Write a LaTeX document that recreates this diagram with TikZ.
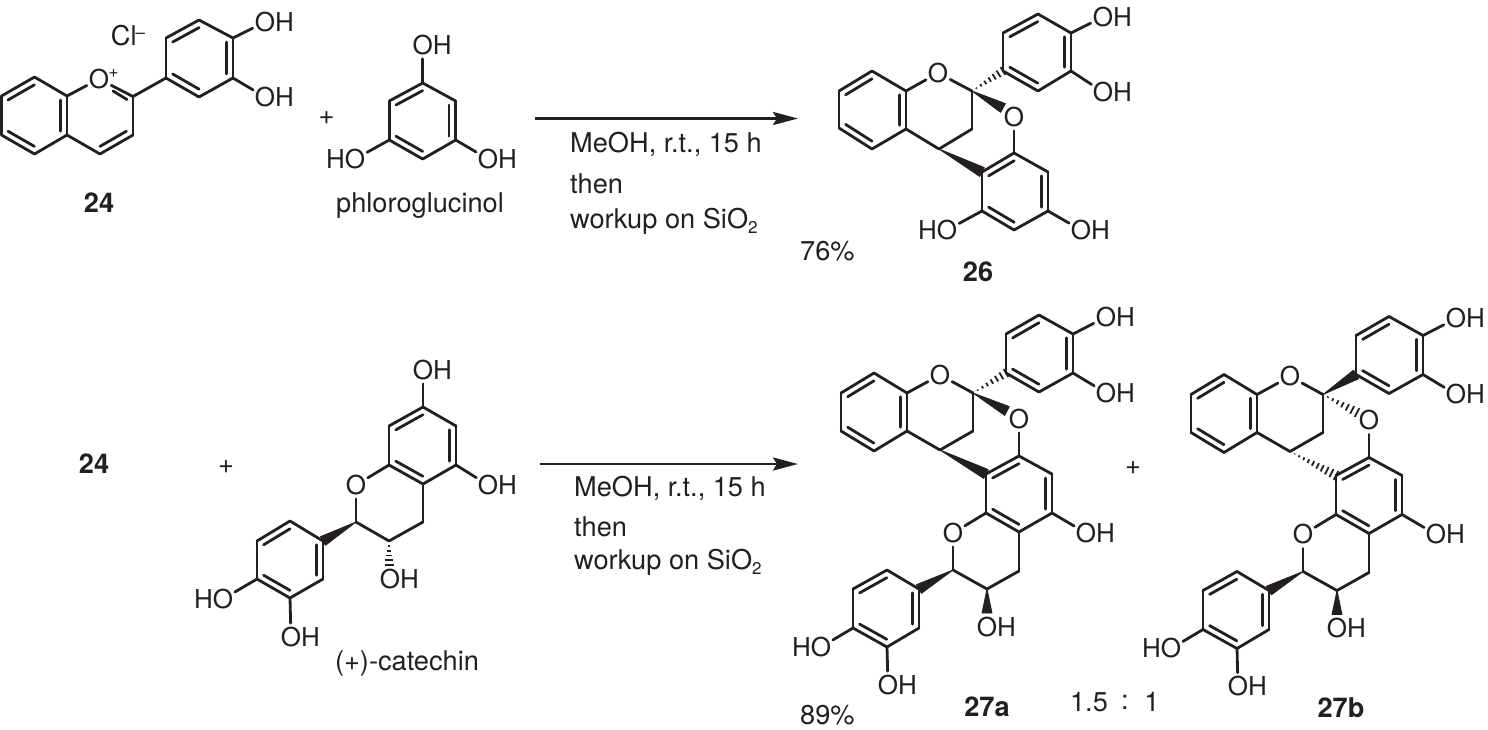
\documentclass[tikz,border=0pt]{standalone}
\usepackage{fontspec}
\setmainfont{TeX Gyre Heros}
\usetikzlibrary{calc,arrows.meta}
\newcommand\chemf{\fontsize{26}{30}\selectfont}
\newcommand\labf{\fontsize{27.2}{32}\selectfont}
\newcommand\smallf{\fontsize{17}{20}\selectfont}
\definecolor{ink}{HTML}{231F20}
\tikzset{
  bond/.style={line width=2.8pt,line cap=round,draw=ink},
  hashline/.style={line width=1.8pt,draw=ink},
  wedgefill/.style={fill=ink,draw=ink,line width=.8pt,line join=round},
  het/.style={circle,inner sep=0pt,minimum size=25pt,font=\chemf,text height=18.4pt,text depth=0pt,text=ink},
  hyd/.style={inner sep=0pt,font=\chemf,text height=18.4pt,text depth=0pt,text=ink},
  lab/.style={inner sep=0pt,font=\labf,text=ink},
  boldlab/.style={inner sep=0pt,font=\labf\bfseries,text=ink},
  plain/.style={inner sep=0pt,font=\labf,text=ink,anchor=base west},
  rxn/.style={line width=2.8pt,draw=ink,-{Stealth[length=25pt,width=13pt,inset=4pt]}}
}
% helpers
\newcommand\atoms[1]{\foreach \nn/\xx/\yy in {#1}{\coordinate (\nn) at (\xx,\yy);}}
\newcommand\bnd[1]{\foreach \pa/\pb in {#1}{\draw[bond] (\pa) -- (\pb);}}
\newcommand\dbl[1]{\foreach \pa/\pb/\pc in {#1}{\draw[bond] ($(\pa)!.2!(\pc)$) -- ($(\pb)!.2!(\pc)$);}}
\newcommand\wdg[3]{\path[wedgefill] (#1) -- ($(#2)!#3!90:(#1)$) -- ($(#2)!#3!-90:(#1)$) -- cycle;}
\newcommand\hsh[4]{\foreach \ii in {1,...,#4}{\pgfmathsetmacro\tt{\ii/#4}\draw[hashline] ($(#1)!\tt!(#2)!\tt*#3!90:(#1)$) -- ($(#1)!\tt!(#2)!\tt*#3!-90:(#1)$);}}
\newcommand\OH[3]{\node[het] (#1) at (#2,#3) {O}; \path (#1.center) ++(19.5,0) node[hyd] (#1h) {H};}
\newcommand\HO[3]{\node[het] (#1) at (#2,#3) {O}; \path (#1.center) ++(-19.5,0) node[hyd] (#1h) {H};}
\newcommand\OO[3]{\node[het] (#1) at (#2,#3) {O};}
% 27 skeleton
\newcommand\twentyseven[1]{%
  \atoms{#1a1/874/373,#1a2/841/393,#1a3/841/431,#1a4/874/451,#1a5/907/431,#1a6/907/393,#1ac/874/412,
         #1c2/973/393,#1c3/973/431,#1c4/940/450,
         #1p1/1006/373,#1p2/1039/392,#1p3/1073/373,#1p4/1073/334,#1p5/1039/315,#1p6/1006/334,#1pc/1039/353.5,
         #1r1/1019/456,#1r2/1052/474,#1r3/1052/513,#1r4/1019/532,#1r5/986/513,#1r6/986/474,#1rc/1019/494,
         #1d2/953/570,#1d3/987/589,#1d4/1019/571,
         #1b1/919/589,#1b2/919/628,#1b3/887/647,#1b4/853/628,#1b5/853/589,#1b6/887/570,#1bc/886/608.5,
         #1w1/987/613}%
  \OO{#1o1}{940}{375}\OH{#1oa}{1106}{317}\OH{#1ob}{1106}{393}
  \OO{#1o2}{1019}{419}\OH{#1oc}{1086}{533}\OO{#1o3}{953}{533}
  \OH{#1od}{987}{627}\HO{#1oe}{821}{647}\OH{#1of}{888}{685}
  \bnd{#1a1/#1a2,#1a2/#1a3,#1a3/#1a4,#1a4/#1a5,#1a5/#1a6,#1a6/#1a1,#1a6/#1o1,#1o1/#1c2,#1c2/#1c3,#1c3/#1c4,#1c4/#1a5,
       #1p1/#1p2,#1p2/#1p3,#1p3/#1p4,#1p4/#1p5,#1p5/#1p6,#1p6/#1p1,#1p4/#1oa,#1p3/#1ob,
       #1o2/#1r1,#1r1/#1r2,#1r2/#1r3,#1r3/#1r4,#1r4/#1r5,#1r5/#1r6,#1r6/#1r1,#1r3/#1oc,#1r5/#1o3,#1o3/#1d2,#1d2/#1d3,#1d3/#1d4,#1d4/#1r4,
       #1b1/#1b2,#1b2/#1b3,#1b3/#1b4,#1b4/#1b5,#1b5/#1b6,#1b6/#1b1,#1b4/#1oe,#1b3/#1of}
  \dbl{#1a1/#1a2/#1ac,#1a3/#1a4/#1ac,#1a5/#1a6/#1ac,
       #1p6/#1p5/#1pc,#1p3/#1p4/#1pc,#1p1/#1p2/#1pc,
       #1r1/#1r6/#1rc,#1r2/#1r3/#1rc,#1r4/#1r5/#1rc,
       #1b5/#1b6/#1bc,#1b1/#1b2/#1bc,#1b3/#1b4/#1bc}
  \wdg{#1d2}{#1b1}{5pt}
  \wdg{#1d3}{#1w1}{5pt}
}
\begin{document}
\begin{tikzpicture}[x=1pt,y=-1pt]
\useasboundingbox (0,0) rectangle (1488,729);
% ---------- 24
\atoms{a1/34.5/77,a2/1.5/96,a3/1.5/135,a4/34.5/154,a5/67/135,a6/67/96,ac/34/116,
       c2/133/96.5,c3/133/135,c4/100/154,cc/100/116,
       p1/166/78,p2/199/97,p3/233/78,p4/233/38,p5/199/20,p6/166/38,pc/199.5/58,
       dbA/113/91,dbB/127/99.5}
\OO{o1}{99}{79}
\node[inner sep=0pt,font=\smallf,text=ink] (oplus) at (113.5,73) {+};
\OH{oa}{265}{22}\OH{ob}{265}{97}
\node[lab] (cl) at (128,36) {Cl\raisebox{7pt}{\smallf\kern-1pt –}};
\bnd{a1/a2,a2/a3,a3/a4,a4/a5,a5/a6,a6/a1,a6/o1,o1/c2,c2/c3,c3/c4,c4/a5,c2/p1,
     p1/p2,p2/p3,p3/p4,p4/p5,p5/p6,p6/p1,p4/oa,p3/ob,dbA/dbB}
\dbl{a1/a2/ac,a3/a4/ac,a5/a6/ac,c3/c4/cc,p6/p5/pc,p3/p4/pc,p1/p2/pc}
\node[boldlab] (n24a) at (99,203) {24};
% ---------- phloroglucinol
\node[lab] (plus1) at (326.5,118) {+};
\atoms{g1/422.7/83,g2/455.7/101,g3/455.7/140,g4/422.7/159,g5/389.3/140,g6/389.3/101,gc/422.5/121}
\OH{ga}{422.7}{45}\HO{gb}{355}{159}\OH{gd}{488}{159}
\bnd{g1/g2,g2/g3,g3/g4,g4/g5,g5/g6,g6/g1,g1/ga,g5/gb,g3/gd}
\dbl{g6/g1/gc,g2/g3/gc,g4/g5/gc}
\node[lab] (phl) at (420,206) {phloroglucinol};
% ---------- arrow 1
\coordinate (ar1s) at (535,118.5);\coordinate (ar1e) at (798,118.5);
\draw[rxn] (ar1s) -- (ar1e);
\node[plain] (t1) at (570,152) {MeOH, r.t., 15 h};
\node[plain] (t2) at (570,193) {then};
\node[plain] (t3) at (570,228) {workup on SiO\raisebox{-5pt}{\smallf 2}};
\node[plain] (y1) at (800,260) {76\%};
% ---------- 26
\atoms{b1/872/71,b2/839/91,b3/839/128,b4/872/149,b5/906/129,b6/906/91,bc/872/110,
       e2/972/91,e3/972/129,e4/939/149,
       q1/1003/71,q2/1038/91,q3/1071/71,q4/1071/33,q5/1038/14,q6/1003/33,qc/1037/52,
       r1/1014/153,r2/1048/172,r3/1048/211,r4/1014/230,r5/982/211,r6/982/172,rc/1015/191.5,
       wa/1003/108}
\OO{eo1}{938}{73}\OH{eoa}{1103}{17}\OH{eob}{1103}{92}
\OO{eo2}{1014}{117}\HO{eoc}{947}{230}\OH{eod}{1081}{230}
\bnd{b1/b2,b2/b3,b3/b4,b4/b5,b5/b6,b6/b1,b6/eo1,eo1/e2,e2/e3,e3/e4,e4/b5,
     q1/q2,q2/q3,q3/q4,q4/q5,q5/q6,q6/q1,q4/eoa,q3/eob,
     eo2/r1,r1/r2,r2/r3,r3/r4,r4/r5,r5/r6,r6/r1,r5/eoc,r3/eod}
\dbl{b1/b2/bc,b3/b4/bc,b5/b6/bc,q6/q5/qc,q3/q4/qc,q1/q2/qc,r1/r6/rc,r2/r3/rc,r4/r5/rc}
\wdg{e4}{r6}{5pt}
\wdg{e2}{wa}{5pt}
\hsh{e2}{q1}{4.5pt}{7}
\node[boldlab] (n26) at (978,272) {26};
% ---------- second row
\node[boldlab] (n24b) at (94,464) {24};
\node[lab] (plus2) at (226,467) {+};
\atoms{k1/423/407,k2/456/426,k3/456/465,k4/423/484,k5/389/465,k6/389/426,kc/422.5/445.5,
       m2/356/522,m3/389/541,m4/423/522,
       n1/323/541,n2/323/579,n3/290/598,n4/257/579,n5/257/541,n6/290/521,nc/290/560,
       hh/389/565}
\OH{ka}{423}{370}\OH{kb}{488}{485}\OO{ko}{356}{485}\OH{kc2}{390}{579}\HO{kd}{223}{599}\OH{ke}{291}{637}
\bnd{k1/k2,k2/k3,k3/k4,k4/k5,k5/k6,k6/k1,k1/ka,k3/kb,k5/ko,ko/m2,m2/m3,m3/m4,m4/k4,
     n1/n2,n2/n3,n3/n4,n4/n5,n5/n6,n6/n1,n4/kd,n3/ke}
\dbl{k6/k1/kc,k2/k3/kc,k4/k5/kc,n1/n2/nc,n3/n4/nc,n5/n6/nc}
\wdg{m2}{n1}{5pt}
\hsh{m3}{hh}{4.5pt}{5}
\node[lab] (cat) at (407,663) {(+)-catechin};
% ---------- arrow 2
\coordinate (ar2s) at (540,464);\coordinate (ar2e) at (798,464);
\draw[rxn] (ar2s) -- (ar2e);
\node[plain] (t4) at (574,496) {MeOH, r.t., 15 h};
\node[plain] (t5) at (574,536) {then};
\node[plain] (t6) at (574,569) {workup on SiO\raisebox{-5pt}{\smallf 2}};
% ---------- 27a
\twentyseven{u}
\coordinate (uwo) at (1007,411);
\wdg{uc4}{ur6}{5pt}
\wdg{uc2}{uwo}{5pt}
\hsh{uc2}{up1}{4.5pt}{7}
\node[lab] (plus3) at (1133,468) {+};
% ---------- 27b
\begin{scope}[shift={(350,1.5)}]
\twentyseven{v}
\coordinate (vwo) at (1007,411);
\wdg{vc2}{vp1}{5pt}
\hsh{vc2}{vwo}{5pt}{7}
\hsh{vc4}{vr6}{5pt}{10}
\end{scope}
\node[plain] (y2) at (800,724) {89\%};
\node[boldlab] (n27a) at (987,707) {27a};
\node[lab] (r15) at (1089,702) {1.5};
\node[lab] (rc) at (1125,702) {:};
\node[lab] (r1n) at (1152,702) {1};
\node[boldlab] (n27b) at (1341,708) {27b};
\end{tikzpicture}
\end{document}
